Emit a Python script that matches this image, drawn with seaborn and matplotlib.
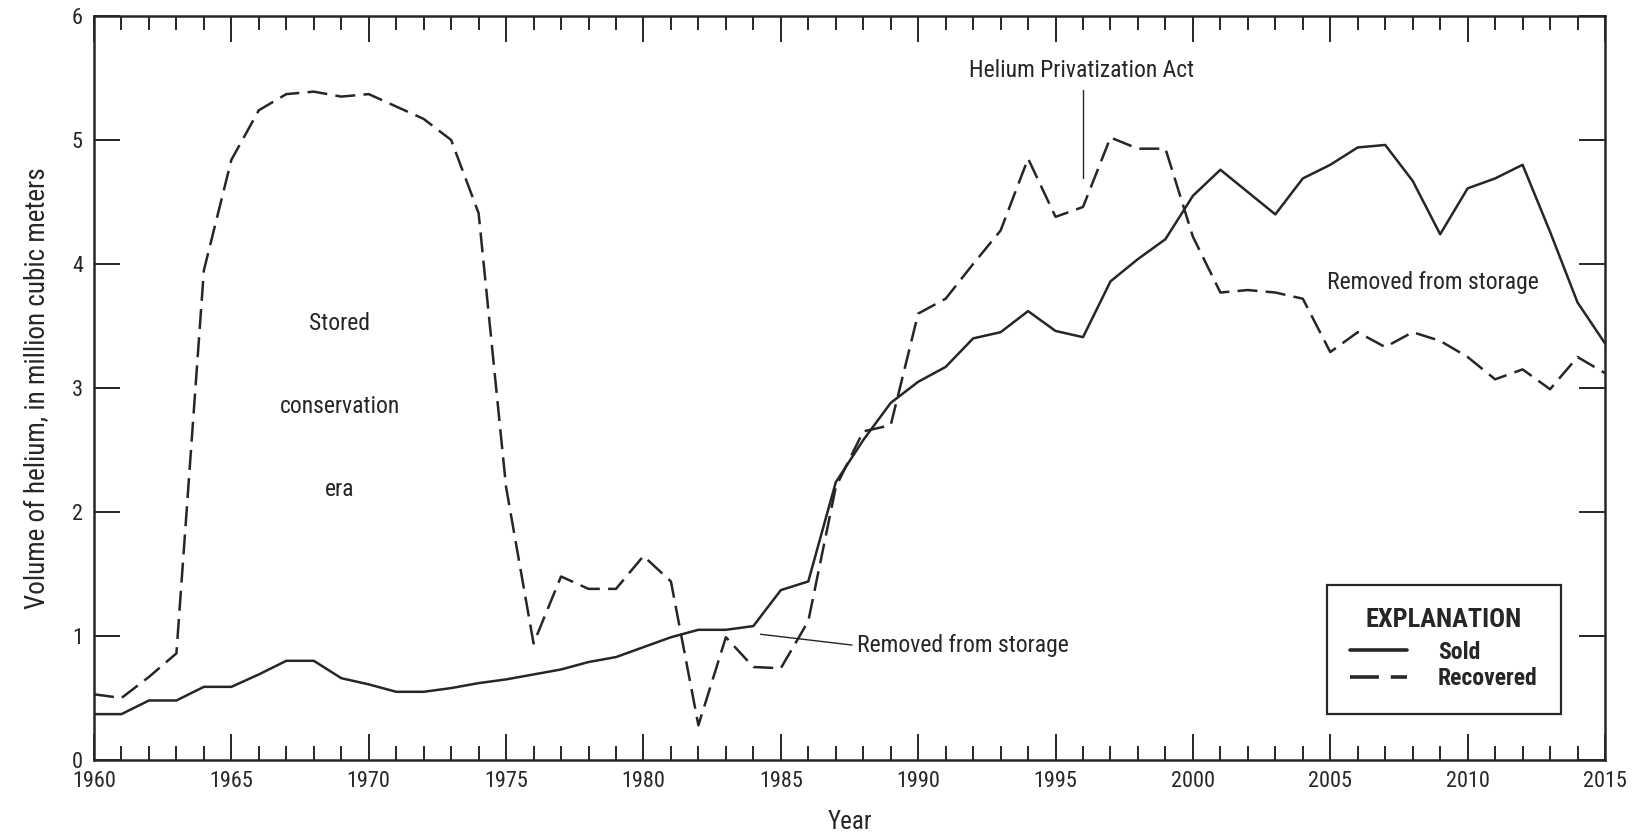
import matplotlib
matplotlib.use("Agg")
import matplotlib.pyplot as plt
import matplotlib.ticker as mticker
from matplotlib import font_manager
import pandas as pd
import seaborn as sns

years = list(range(1960, 2016))
sold = [0.37, 0.37, 0.48, 0.48, 0.59, 0.59, 0.69, 0.80, 0.80, 0.66,
        0.61, 0.55, 0.55, 0.58, 0.62, 0.65, 0.69, 0.73, 0.79, 0.83,
        0.91, 0.99, 1.05, 1.05, 1.08, 1.37, 1.44, 2.24, 2.58, 2.88,
        3.05, 3.17, 3.40, 3.45, 3.62, 3.46, 3.41, 3.86, 4.04, 4.20,
        4.55, 4.76, 4.58, 4.40, 4.69, 4.80, 4.94, 4.96, 4.67, 4.24,
        4.61, 4.69, 4.80, 4.26, 3.69, 3.36]
recovered = [0.53, 0.50, 0.67, 0.86, 3.95, 4.84, 5.24, 5.37, 5.39, 5.35,
             5.37, 5.27, 5.17, 5.00, 4.41, 2.20, 0.94, 1.48, 1.38, 1.38,
             1.645, 1.44, 0.28, 0.99, 0.75, 0.74, 1.12, 2.20, 2.65, 2.70,
             3.60, 3.72, 4.00, 4.27, 4.85, 4.38, 4.46, 5.02, 4.93, 4.93,
             4.22, 3.77, 3.79, 3.77, 3.72, 3.29, 3.45, 3.33, 3.45, 3.38,
             3.25, 3.07, 3.15, 2.99, 3.25, 3.12]

ink = "#262626"

# look for a narrow face, the original uses a condensed sans
narrow = ("condensed", "semi-condensed", "extra-condensed", "ultra-condensed")
family, stretch = "Roboto", "normal"
found = [f for f in font_manager.fontManager.ttflist
         if f.stretch in narrow or "Condensed" in f.name or "Narrow" in f.name]
for pref in ["Roboto", "Liberation", "Noto Sans", "Open Sans", "DejaVu Sans"]:
    hits = [f for f in found if f.name.startswith(pref)]
    if hits:
        family, stretch = hits[0].name, hits[0].stretch
        break

sns.set_style("ticks")
plt.rcParams["font.family"] = [family, "DejaVu Sans"]
plt.rcParams["font.stretch"] = stretch
plt.rcParams["text.color"] = ink
plt.rcParams["axes.labelcolor"] = ink
plt.rcParams["xtick.color"] = ink
plt.rcParams["ytick.color"] = ink

df = pd.DataFrame({"Year": years, "Sold": sold, "Recovered": recovered})

fig = plt.figure(figsize=(16.45, 8.36), dpi=100)
ax = fig.add_axes([94 / 1645, 1 - 760 / 836, (1605 - 94) / 1645, (760 - 16) / 836])

sns.lineplot(data=df, x="Year", y="Sold", ax=ax, color=ink, lw=1.8, label="Sold")
sns.lineplot(data=df, x="Year", y="Recovered", ax=ax, color=ink, lw=1.8,
             label="Recovered")
ax.lines[1].set_dashes((8, 3.3))

ax.set_xlim(1960, 2015)
ax.set_ylim(0, 6)
ax.xaxis.set_major_locator(mticker.MultipleLocator(5))
ax.xaxis.set_minor_locator(mticker.MultipleLocator(1))
ax.yaxis.set_major_locator(mticker.MultipleLocator(1))
ax.tick_params(axis="both", which="major", direction="in", top=True, right=True,
               length=19, width=1.4, labelsize=16, pad=8)
ax.tick_params(axis="x", which="minor", direction="in", top=True,
               length=10, width=1.4)
for sp in ax.spines.values():
    sp.set_visible(True)
    sp.set_linewidth(1.8)
    sp.set_color(ink)

ax.set_xlabel("Year", fontsize=18, labelpad=13)
ax.set_ylabel("Volume of helium, in million cubic meters", fontsize=19.5, labelpad=15)

# annotations
ax.text(1968.95, 3.52, "Stored", fontsize=17, ha="center", va="center")
ax.text(1968.95, 2.85, "conservation", fontsize=17, ha="center", va="center")
ax.text(1968.95, 2.18, "era", fontsize=17, ha="center", va="center")

ax.text(1995.95, 5.56, "Helium Privatization Act", fontsize=17, ha="center", va="center")
ax.plot([1996, 1996], [5.40, 4.69], color=ink, lw=1.0)

ax.plot([1984.26, 1987.59], [1.014, 0.927], color=ink, lw=1.0)
ax.text(1987.77, 0.927, "Removed from storage", fontsize=17, ha="left", va="center")
ax.text(2008.75, 3.85, "Removed from storage", fontsize=17, ha="center", va="center")

leg = ax.legend(title="EXPLANATION", loc="lower right",
                bbox_to_anchor=(0.971, 0.062), frameon=True, fancybox=False,
                fontsize=17, title_fontsize=19, handlelength=2.4,
                borderpad=1.0, labelspacing=0.15, handletextpad=1.3,
                borderaxespad=0)
leg.get_title().set_fontweight("bold")
leg._legend_box.sep = 6
for t in leg.get_texts():
    t.set_fontweight("bold")
for h in leg.legend_handles:
    h.set_linewidth(2.6)
frame = leg.get_frame()
frame.set_edgecolor(ink)
frame.set_linewidth(1.6)
frame.set_alpha(1)

fig.savefig("out.png", dpi=100)
